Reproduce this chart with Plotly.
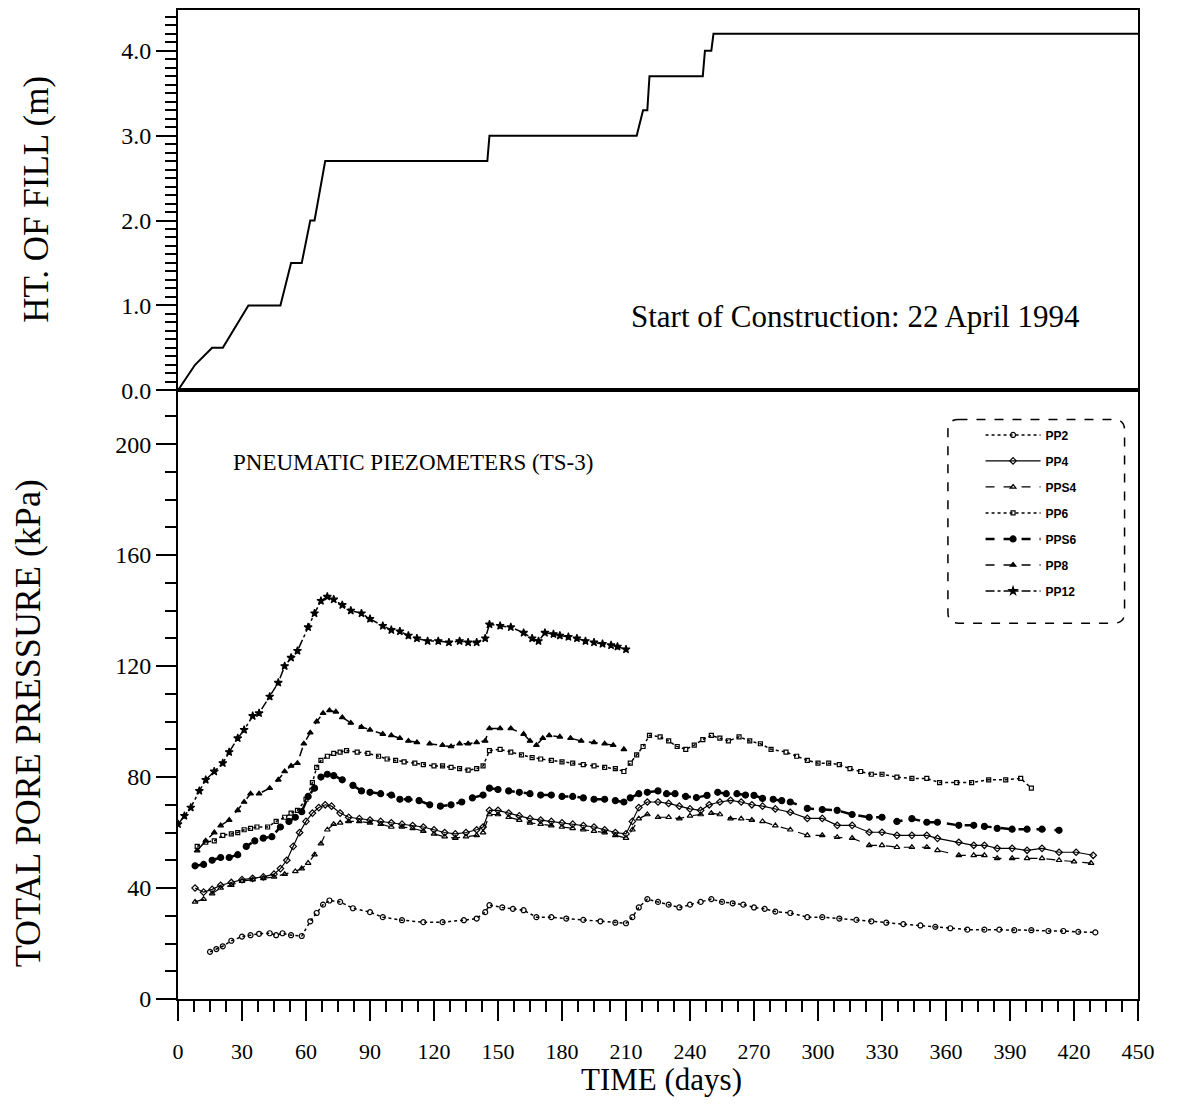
import plotly.graph_objects as go

# ---------------- DATA ----------------
fill_days = [0, 8, 16, 21, 33, 48, 53, 58, 62, 64, 69, 145, 146, 215, 218, 220, 221, 246, 247, 250, 251, 450]
fill_height = [0, 0.3, 0.5, 0.5, 1.0, 1.0, 1.5, 1.5, 2.0, 2.0, 2.7, 2.7, 3.0, 3.0, 3.3, 3.3, 3.7, 3.7, 4.0, 4.0, 4.2, 4.2]

pp12_days = [0, 3, 6, 10, 13, 17, 21, 24, 28, 31, 35, 38, 43, 47, 50, 53, 56, 61, 64, 67, 70, 73, 77, 81, 86, 90,
             96, 100, 104, 108, 112, 117, 122, 127, 132, 136, 140, 144, 146, 151, 156, 162, 166, 169, 172, 176, 179,
             183, 187, 191, 195, 199, 203, 206, 210]
pp12_kpa = [63, 66, 69, 75, 79, 82, 85, 89, 94, 97, 102, 103, 109, 114, 120, 123, 125.5, 134, 139, 143.5, 145, 144,
            142, 140, 139, 137, 134.5, 133, 132.5, 131, 130, 129, 129, 128.5, 129, 128.5, 128.5, 130, 135, 134.5, 134,
            132, 130, 129, 132, 131.5, 131, 130.5, 130, 129, 128.5, 128, 127.5, 127, 126]

pp8_days = [9, 13, 17, 20, 24, 28, 31, 34, 38, 43, 47, 50, 53, 56, 59, 62, 65, 68, 71, 74, 77, 81, 86, 90, 96, 100,
            104, 108, 112, 118, 124, 128, 132, 136, 140, 144, 146, 151, 156, 162, 165, 168, 171, 174, 179, 184, 189,
            195, 200, 204, 209]
pp8_kpa = [53.5, 57, 60, 62.5, 64.5, 68, 71, 74, 74, 76, 79, 82, 84, 85, 92, 96, 100, 103, 104, 103.5, 101.5, 99.5,
           98, 97, 95.5, 95, 94, 93, 92.5, 92, 91.5, 91, 92, 92, 92.5, 93, 97.5, 97.5, 97.5, 95.5, 93, 91.5, 94, 95,
           94.5, 94, 93, 92.5, 92, 91.5, 90]

pp6_days = [9, 13, 17, 21, 25, 28, 31, 34, 37, 42, 46, 50, 53, 56, 60, 63, 65, 67, 70, 73, 76, 79, 84, 89, 94, 98,
            102, 106, 111, 115, 120, 124, 128, 132, 136, 140, 143, 146, 151, 156, 161, 166, 170, 175, 180, 185, 190,
            195, 200, 205, 209, 212, 215, 218, 221, 226, 230, 234, 238, 242, 246, 250, 254, 258, 263, 268, 273, 278,
            285, 290, 295, 300, 305, 310, 315, 320, 325, 330, 337, 344, 351, 357, 365, 372, 380, 388, 395, 400]
pp6_kpa = [55, 56.5, 57, 59, 59.5, 60, 61, 61.5, 62, 62, 64, 65.5, 67, 68, 72, 78, 83.5, 86, 87.5, 88.5, 89, 89.5,
           89, 88.5, 87.5, 86.5, 86, 85.5, 85, 84.5, 84, 84, 83.5, 83, 82.5, 83, 84, 89.5, 90, 89, 88, 87, 86.5, 86,
           85.5, 85, 84.5, 84, 83.5, 83, 82, 85, 88, 91, 95, 94.5, 93, 91, 90, 91.5, 93.5, 95, 94, 93, 94.5, 93, 92,
           90, 89, 87.5, 86, 85, 85, 84.5, 83, 82, 81, 81, 80, 79.5, 79.5, 78, 78, 78, 79, 79, 79.5, 76]

pps6_days = [8, 12, 16, 20, 24, 28, 32, 36, 40, 44, 48, 52, 55, 58, 61, 64, 67, 70, 73, 77, 82, 86, 90, 95, 100, 104,
             108, 113, 118, 123, 128, 133, 138, 143, 146, 150, 155, 160, 165, 170, 175, 180, 185, 190, 195, 200, 205,
             209, 212, 216, 220, 225, 229, 233, 238, 243, 248, 253, 257, 262, 266, 270, 274, 279, 283, 287, 295, 302,
             309, 316, 324, 330, 337, 344, 351, 356, 366, 373, 378, 384, 391, 398, 405, 413]
pps6_kpa = [48, 48.5, 50, 51, 51, 52, 55, 57, 58, 58.5, 62, 64, 65.5, 67.5, 73, 76, 80, 81, 80.5, 79, 77, 75, 74.5,
            74, 73.5, 72, 72, 71.5, 70, 69.5, 70, 71, 72.5, 73.5, 76, 75.5, 75, 74.5, 74, 73.5, 73.5, 73, 73, 72.5,
            72, 72, 71.5, 71, 72.5, 74, 74.5, 75, 74, 74, 73, 72.6, 73.4, 74.5, 74, 74, 73.5, 73.4, 72.3, 72, 71.5,
            71, 68.7, 68.3, 68, 66.5, 65.5, 65.5, 64, 65, 63.7, 63.7, 62.6, 62.6, 62.2, 61.5, 61.2, 61.2, 61.2, 60.8]

pp4_days = [8, 12, 16, 20, 25, 30, 35, 40, 45, 48, 51, 54, 57, 60, 63, 66, 69, 72, 76, 80, 85, 90, 95, 100, 105, 110,
            115, 120, 125, 130, 135, 140, 143, 146, 150, 155, 160, 165, 170, 175, 180, 185, 190, 195, 200, 205, 210,
            213, 216, 220, 225, 230, 235, 240, 245, 249, 254, 259, 264, 269, 274, 280, 287, 295, 302, 309, 316, 324,
            330, 337, 344, 351, 356, 366, 373, 378, 384, 391, 398, 405, 413, 421, 429]
pp4_kpa = [40, 38.5, 39.5, 41, 42, 43, 43.5, 44, 45, 47, 50, 55, 60, 64, 67, 69, 70, 69.5, 67, 65.5, 65, 64.5, 64,
           63.5, 63, 62.5, 62, 61, 60, 59.5, 60, 61, 62, 68, 68, 67, 66, 65, 64.5, 64, 63.5, 63, 62.5, 62, 61, 60,
           59.5, 64, 69, 71, 71, 70.5, 69.5, 68.5, 68, 70, 71, 71.6, 71, 70, 69.5, 68.5, 67.3, 65.1, 65.1, 62.6,
           62.6, 60.1, 60.1, 59, 59, 59, 57.9, 56.5, 55.4, 55.4, 54.3, 54.3, 53.6, 54.3, 52.9, 52.9, 51.8]

pps4_days = [8, 12, 16, 20, 25, 30, 35, 40, 45, 50, 55, 58, 61, 64, 67, 70, 73, 76, 80, 85, 90, 95, 100, 105, 110,
             115, 120, 125, 130, 135, 140, 143, 146, 150, 155, 160, 165, 170, 175, 180, 185, 190, 195, 200, 205, 210,
             213, 216, 220, 225, 230, 235, 240, 245, 250, 254, 259, 264, 269, 274, 280, 287, 295, 302, 309, 316, 324,
             330, 337, 344, 351, 356, 366, 373, 378, 384, 391, 398, 405, 413, 420, 428]
pps4_kpa = [35, 36, 38, 40, 41, 42.5, 43, 43.5, 44, 45, 46, 47, 49, 52, 56, 61, 63, 63.5, 64, 64, 63.5, 63, 62, 62,
            61.5, 60.5, 59.5, 58.5, 58, 58.5, 59, 60, 66.5, 66.5, 65.5, 64.5, 63.5, 63, 62.5, 62, 61.5, 61, 60.5, 60,
            59, 58, 61, 65, 66.5, 65.5, 65.5, 65, 66, 66.5, 67, 66.5, 65, 65, 64.5, 64, 62.5, 61, 59, 59, 58.3, 58,
            55.4, 55.4, 54.7, 54.7, 54.7, 53.6, 51.8, 51.8, 51.8, 50.7, 50.7, 50.7, 50.7, 50, 49.5, 49]

pp2_days = [15, 18, 21, 25, 30, 34, 38, 43, 46, 49, 53, 58, 62, 65, 68, 71, 76, 82, 90, 96, 105, 115, 124, 134, 140,
            144, 146, 152, 157, 162, 168, 175, 182, 190, 198, 205, 210, 213, 216, 220, 225, 230, 235, 240, 245, 250,
            255, 260, 265, 270, 275, 280, 287, 295, 302, 310, 318, 325, 332, 340, 348, 355, 362, 370, 378, 385, 392,
            400, 408, 415, 422, 430]
pp2_kpa = [17, 18, 19, 21, 22.5, 23, 23.5, 23.7, 23, 23.7, 23, 22.7, 28, 31, 34, 35.5, 35, 32.7, 31.3, 29.5, 28.4,
           27.7, 27.7, 28.4, 29, 31.3, 33.8, 33, 32.5, 32, 29.5, 29.5, 29, 28.5, 28, 27.5, 27.3, 29.5, 33, 36, 35, 34,
           33, 34, 35, 36, 35, 34.5, 34, 33, 32.5, 31.5, 31, 29.5, 29.5, 29, 28.5, 28, 27.5, 27, 26.5, 26, 25.5, 25,
           25, 25, 24.8, 24.8, 24.5, 24.5, 24.2, 24]

x_tick_vals = list(range(0, 451, 30))
fill_tick_vals = [0, 1, 2, 3, 4]
fill_tick_text = ["0.0", "1.0", "2.0", "3.0", "4.0"]
kpa_tick_vals = [0, 40, 80, 120, 160, 200]

series = [
    ("PP2", pp2_days, pp2_kpa, "circle-open", "dot", 1.5, 5),
    ("PP4", pp4_days, pp4_kpa, "diamond-open", "solid", 1.2, 5),
    ("PPS4", pps4_days, pps4_kpa, "triangle-up-open", "dash", 1.2, 5),
    ("PP6", pp6_days, pp6_kpa, "square-open", "dot", 1.5, 4),
    ("PPS6", pps6_days, pps6_kpa, "circle", "dash", 2.5, 6),
    ("PP8", pp8_days, pp8_kpa, "triangle-up", "dash", 1.5, 5),
    ("PP12", pp12_days, pp12_kpa, "star", "dashdot", 1.5, 6),
]

# ---------------- FIGURE ----------------
SERIF = "Liberation Serif"
fig = go.Figure()

fig.add_trace(go.Scatter(x=fill_days, y=fill_height, mode="lines",
                         line=dict(color="black", width=2), xaxis="x2", yaxis="y2",
                         showlegend=False, hoverinfo="skip"))

for name, d, v, sym, dash, lw, ms in series:
    fig.add_trace(go.Scatter(
        x=d, y=v, mode="lines+markers", name=name, legendgroup=name,
        line=dict(color="black", width=lw, dash=dash),
        marker=dict(symbol=sym, size=ms, color="black", line=dict(color="black", width=1.2)),
        xaxis="x", yaxis="y"))

split = 0.6155
axis_common = dict(showline=True, linecolor="black", linewidth=2, mirror=True,
                   showgrid=False, zeroline=False, color="black")

fig.update_layout(
    width=1178, height=1105,
    margin=dict(l=178, r=40, t=8, b=106),
    paper_bgcolor="white", plot_bgcolor="white",
    font=dict(family=SERIF, color="black"),
    xaxis=dict(domain=[0, 1], range=[0, 450], anchor="y",
               tickmode="array", tickvals=x_tick_vals, ticks="outside", ticklen=20, tickwidth=1.5,
               tickcolor="black", ticklabelstandoff=12,
               tickfont=dict(family=SERIF, size=22),
               minor=dict(dtick=7.5, tick0=0, ticks="outside", ticklen=11, tickwidth=1.5, tickcolor="black"),
               **axis_common),
    xaxis2=dict(domain=[0, 1], range=[0, 450], anchor="y2", matches="x",
                showticklabels=False, ticks="", **axis_common),
    yaxis=dict(domain=[0, split], range=[0, 219.4], anchor="x",
               tickmode="array", tickvals=kpa_tick_vals, ticks="outside", ticklen=20, tickwidth=1.5,
               tickcolor="black", tickfont=dict(family=SERIF, size=24),
               minor=dict(dtick=10, tick0=0, ticks="outside", ticklen=11, tickwidth=1.5, tickcolor="black"),
               **axis_common),
    yaxis2=dict(domain=[split, 1], range=[0, 4.48], anchor="x2",
                tickmode="array", tickvals=fill_tick_vals, ticktext=fill_tick_text,
                ticks="outside", ticklen=20, tickwidth=1.5, tickcolor="black",
                tickfont=dict(family=SERIF, size=24),
                minor=dict(dtick=0.1, tick0=0, ticks="outside", ticklen=11, tickwidth=1.5, tickcolor="black"),
                **axis_common),
    legend=dict(x=0.836, y=0.585, xanchor="left", yanchor="top",
                bgcolor="rgba(0,0,0,0)", borderwidth=0,
                font=dict(family="Liberation Sans", size=12, color="black", weight="bold"),
                traceorder="grouped", tracegroupgap=7, itemwidth=55),
    showlegend=True,
)

# dashed rounded legend frame
lx0, lx1 = 0.802, 0.986
ly0, ly1 = 0.380, 0.586
rx, ry = 0.011, 0.011
path = (f"M {lx0+rx},{ly1} L {lx1-rx},{ly1} Q {lx1},{ly1} {lx1},{ly1-ry} "
        f"L {lx1},{ly0+ry} Q {lx1},{ly0} {lx1-rx},{ly0} L {lx0+rx},{ly0} "
        f"Q {lx0},{ly0} {lx0},{ly0+ry} L {lx0},{ly1-ry} Q {lx0},{ly1} {lx0+rx},{ly1} Z")
fig.add_shape(type="path", path=path, xref="paper", yref="paper",
              line=dict(color="black", width=1.5, dash="dash"))

annotations = [
    dict(text="Start of Construction: 22 April 1994", x=0.706, y=0.690, font=dict(size=31)),
    dict(text="PNEUMATIC PIEZOMETERS (TS-3)", x=0.245, y=0.542, font=dict(size=23)),
    dict(text="TIME (days)", x=0.504, y=-0.081, font=dict(size=31)),
    dict(text="HT. OF FILL (m)", x=-0.147, y=0.809, textangle=-90, font=dict(size=35)),
    dict(text="TOTAL PORE PRESSURE (kPa)", x=-0.156, y=0.279, textangle=-90, font=dict(size=36)),
]
for a in annotations:
    fig.add_annotation(xref="paper", yref="paper", showarrow=False, xanchor="center", yanchor="middle",
                       text=a["text"], x=a["x"], y=a["y"], textangle=a.get("textangle", 0),
                       font=dict(family=SERIF, color="black", size=a["font"]["size"]))

fig.write_html("out.html")
